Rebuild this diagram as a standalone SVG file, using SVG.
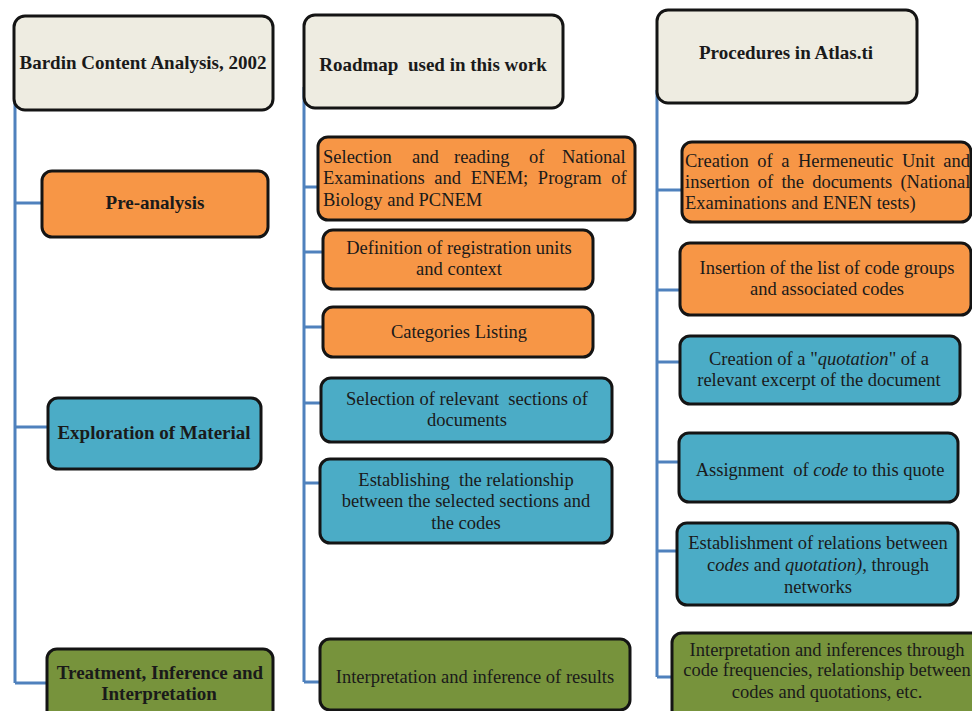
<svg xmlns="http://www.w3.org/2000/svg" width="972" height="711" viewBox="0 0 972 711">
<style>
.box{stroke:#141414;stroke-width:3}
.hdr{fill:#eeece1}
.org{fill:#f79646}
.blu{fill:#4bacc6}
.grn{fill:#77933c}
.conn{fill:none;stroke:#4f81bd;stroke-width:3}
text{font-family:"Liberation Serif","Times New Roman",serif;font-size:18.5px;fill:#1a1a1a}
.b{font-weight:bold;font-size:19px}
.c{text-anchor:middle}
.i{font-style:italic}
</style>
<rect width="972" height="711" fill="#ffffff"/>
<g id="connectors">
<path class="conn" d="M15 103V683M15 203H42M15 427H48M15 683H47"/>
<path class="conn" d="M304 87V682M304 187H318M304 252H323M304 327H323M304 403H321M304 483H320M304 682H320"/>
<path class="conn" d="M657 90V677M657 190H682M657 290H680M657 362H680M657 462H679M657 551H677M657 677H672"/>
</g>
<g id="bardin-header"><rect class="box hdr" x="14" y="16" width="259" height="94" rx="11"/><text class="b c" x="143" y="69">Bardin Content Analysis, 2002</text></g>
<g id="pre-analysis"><rect class="box org" x="42" y="171" width="226" height="66" rx="10"/><text class="b c" x="155" y="209">Pre-analysis</text></g>
<g id="exploration"><rect class="box blu" x="48" y="398" width="213" height="71" rx="10"/><text class="b c" x="154" y="439">Exploration of Material</text></g>
<g id="treatment"><rect class="box grn" x="47" y="649" width="226" height="72" rx="10"/><text class="b c" x="160" y="679">Treatment, Inference and</text><text class="b c" x="159" y="700">Interpretation</text></g>

<g id="roadmap-header"><rect class="box hdr" x="304" y="15" width="259" height="93" rx="11"/><text class="b c" x="433" y="71" xml:space="preserve">Roadmap  used in this work</text></g>
<g id="r1"><rect class="box org" x="318" y="137" width="317" height="83" rx="10"/>
<text y="163"><tspan x="323">Selection</tspan><tspan x="412">and</tspan><tspan x="454">reading</tspan><tspan x="529">of</tspan><tspan x="562">National</tspan></text>
<text x="323" y="184" word-spacing="5">Examinations and ENEM; Program of</text>
<text x="323" y="206">Biology and PCNEM</text></g>
<g id="r2"><rect class="box org" x="323" y="230" width="270" height="59" rx="10"/><text class="c" x="459" y="254">Definition of registration units</text><text class="c" x="459" y="275">and context</text></g>
<g id="r3"><rect class="box org" x="323" y="307" width="270" height="50" rx="10"/><text class="c" x="459" y="338">Categories Listing</text></g>
<g id="r4"><rect class="box blu" x="321" y="378" width="291" height="64" rx="10"/><text class="c" x="467" y="405" xml:space="preserve">Selection of relevant  sections of</text><text class="c" x="467" y="426">documents</text></g>
<g id="r5"><rect class="box blu" x="320" y="459" width="292" height="84" rx="10"/><text class="c" x="466" y="486" xml:space="preserve">Establishing  the relationship</text><text class="c" x="466" y="507">between the selected sections and</text><text class="c" x="466" y="529">the codes</text></g>
<g id="r6"><rect class="box grn" x="320" y="639" width="310" height="71" rx="10"/><text class="c" x="475" y="683">Interpretation and inference of results</text></g>

<g id="atlas-header"><rect class="box hdr" x="657" y="10" width="260" height="93" rx="11"/><text class="b c" x="786" y="59">Procedures in Atlas.ti</text></g>
<g id="a1"><rect class="box org" x="682" y="142" width="289" height="80" rx="10"/>
<text x="685" y="167" word-spacing="3.9">Creation of a Hermeneutic Unit and</text>
<text x="685" y="188" word-spacing="3.5">insertion of the documents (National</text>
<text x="685" y="209">Examinations and ENEN tests)</text></g>
<g id="a2"><rect class="box org" x="680" y="243" width="291" height="72" rx="10"/><text class="c" x="827" y="274">Insertion of the list of code groups</text><text class="c" x="827" y="295">and associated codes</text></g>
<g id="a3"><rect class="box blu" x="680" y="336" width="280" height="68" rx="10"/><text class="c" x="819" y="365">Creation of a "<tspan class="i">quotation</tspan>" of a</text><text class="c" x="819" y="386">relevant excerpt of the document</text></g>
<g id="a4"><rect class="box blu" x="679" y="433" width="279" height="69" rx="10"/><text class="c" x="820" y="476" xml:space="preserve">Assignment  of <tspan class="i">code</tspan> to this quote</text></g>
<g id="a5"><rect class="box blu" x="677" y="523" width="281" height="82" rx="10"/><text class="c" x="818" y="549">Establishment of relations between</text><text class="c" x="818" y="571">c<tspan class="i">odes</tspan> and <tspan class="i">quotation)</tspan>, through</text><text class="c" x="818" y="593">networks</text></g>
<g id="a6"><rect class="box grn" x="672" y="633" width="310" height="90" rx="10"/><text class="c" x="827" y="656">Interpretation and inferences through</text><text class="c" x="827" y="676">code frequencies, relationship between</text><text class="c" x="827" y="698">codes and quotations, etc.</text></g>
</svg>
